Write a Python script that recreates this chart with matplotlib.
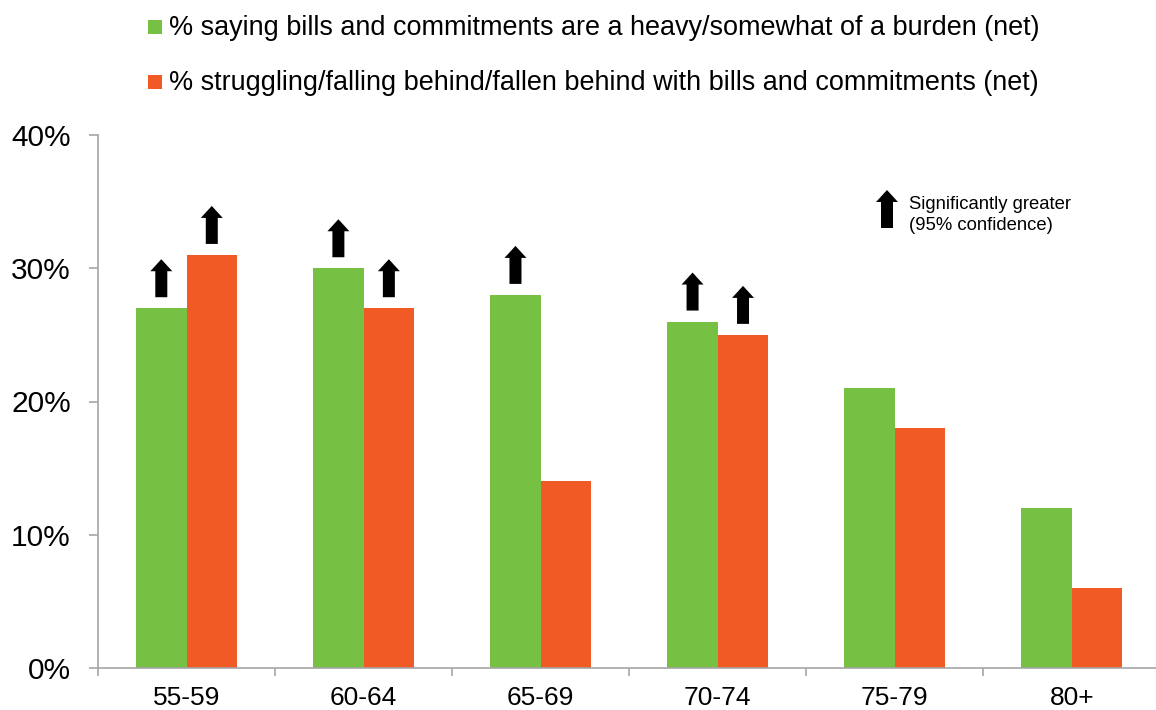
import matplotlib
matplotlib.use("Agg")
import matplotlib.pyplot as plt
import matplotlib.transforms as mtransforms
from matplotlib.patches import Polygon, Rectangle
import numpy as np

plt.rcParams['font.family'] = ['Liberation Sans', 'DejaVu Sans']

categories = ["55-59", "60-64", "65-69", "70-74", "75-79", "80+"]
burden = [27, 30, 28, 26, 21, 12]
struggling = [31, 27, 14, 25, 18, 6]
burden_sig = [True, True, True, True, False, False]
struggling_sig = [True, True, False, True, False, False]
series_labels = [
    "% saying bills and commitments are a heavy/somewhat of a burden (net)",
    "% struggling/falling behind/fallen behind with bills and commitments (net)",
]
yticks = [0, 10, 20, 30, 40]

GREEN = "#76C043"
ORANGE = "#F15A24"
AXIS = "#A6A6A6"

W, H = 1156, 710
fig = plt.figure(figsize=(W / 100, H / 100), dpi=100)
x0, x1 = 98, 1160.5
y0, y1 = 668, 135
ax = fig.add_axes([x0 / W, (H - y0) / H, (x1 - x0) / W, (y0 - y1) / H])

x = np.arange(len(categories))
bw = 0.285
ax.bar(x - bw / 2, burden, bw, color=GREEN, zorder=2)
ax.bar(x + bw / 2, struggling, bw, color=ORANGE, zorder=2)

ax.set_xlim(-0.5, len(categories) - 0.5)
ax.set_ylim(0, 40)
ax.set_yticks(yticks)
ax.set_yticklabels([f"{v}%" for v in yticks])
ax.set_xticks(np.arange(-0.5, len(categories), 1.0))
ax.set_xticklabels([])
ax.set_xticks(x, minor=True)
ax.set_xticklabels(categories, minor=True)
ax.tick_params(axis='x', which='minor', length=0, pad=13, labelsize=19)
ax.tick_params(axis='x', which='major', length=6, width=1.2, color=AXIS)
ax.tick_params(axis='y', length=6.5, width=1.2, color=AXIS, pad=13, labelsize=21.5)

for side in ("top", "right"):
    ax.spines[side].set_visible(False)
for side in ("left", "bottom"):
    ax.spines[side].set_color(AXIS)
    ax.spines[side].set_linewidth(1.2)

# Up-arrow shape in pixel units, base at origin
arrow_px = np.array([
    (-6, 0), (6, 0), (6, 26), (11, 26), (0, 38), (-11, 26), (-6, 26)
])


def draw_arrow(xd, yd, off=11):
    tr = mtransforms.Affine2D().translate(0, off) + mtransforms.ScaledTranslation(xd, yd, ax.transData)
    ax.add_patch(Polygon(arrow_px, closed=True, facecolor="black", edgecolor="none",
                         transform=tr, clip_on=False, zorder=3))


for i in range(len(categories)):
    if burden_sig[i]:
        draw_arrow(x[i] - bw / 2, burden[i])
    if struggling_sig[i]:
        draw_arrow(x[i] + bw / 2, struggling[i])

# Key for the arrow marker
tr = mtransforms.Affine2D().translate(887, H - 228)
fig.patches.append(Polygon(arrow_px, closed=True, facecolor="black", edgecolor="none",
                           transform=tr))
fig.text(909 / W, 1 - 204 / H, "Significantly greater", fontsize=13.3, va="center", ha="left")
fig.text(909 / W, 1 - 225 / H, "(95% confidence)", fontsize=13.3, va="center", ha="left")

# Series legend at the top
for row, (lab, col) in enumerate(zip(series_labels, [GREEN, ORANGE])):
    yc = 28 + row * 55
    fig.patches.append(Rectangle((148 / W, 1 - (yc + 6) / H), 14 / W, 14 / H,
                                 transform=fig.transFigure, facecolor=col, edgecolor="none"))
    fig.text(169 / W, 1 - yc / H, lab, fontsize=19.45, va="center", ha="left")

fig.savefig("out.png", dpi=100)
